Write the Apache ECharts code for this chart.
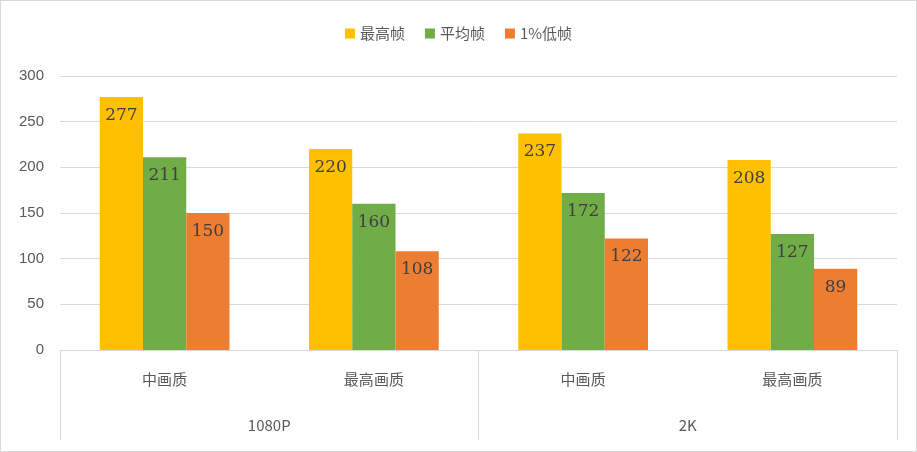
<!DOCTYPE html><html><head><meta charset="utf-8">
<script src="https://cdn.jsdelivr.net/npm/echarts@6/dist/echarts.min.js"></script>
<style>html,body{margin:0;padding:0}#c{width:915px;height:450px;border:1px solid #d9d9d9}</style></head><body><div id="c"></div><script>
const categories=['中画质','最高画质','中画质','最高画质'];
const groups=['1080P','2K'];
const seriesNames=['最高帧','平均帧','1%低帧'];
const maxFps=[277,220,237,208];
const avgFps=[211,160,172,127];
const lowFps=[150,108,122,89];
const colors=['#FFC000','#70AD47','#ED7D31'];
const chart=echarts.init(document.getElementById('c'));
const lbl={show:true,position:'insideTop',distance:10,color:'#404040',fontSize:17,fontFamily:'DejaVu Serif'};
chart.setOption({
 animation:false,
 legend:{top:20,itemWidth:10,itemHeight:10,itemGap:20,icon:'rect',textStyle:{fontSize:15,color:'#595959',fontFamily:'Noto Sans CJK SC'}},
 grid:{left:59,right:19,top:75,bottom:101},
 xAxis:[{type:'category',data:categories,axisTick:{show:false},axisLine:{lineStyle:{color:'#d9d9d9'}},
   axisLabel:{margin:22,fontSize:15,color:'#595959',fontFamily:'Noto Sans CJK SC'}},
  {type:'category',data:groups,position:'bottom',axisLine:{show:false},
   axisTick:{show:true,length:90,lineStyle:{color:'#d9d9d9'}},
   axisLabel:{margin:68,fontSize:15,color:'#595959',fontFamily:'Noto Sans CJK SC'}}],
 yAxis:{type:'value',min:0,max:300,interval:50,axisLine:{show:false},axisTick:{show:false},
  splitLine:{lineStyle:{color:'#d9d9d9'}},axisLabel:{fontSize:15,color:'#595959',margin:16}},
 series:[maxFps,avgFps,lowFps].map((d,i)=>({name:seriesNames[i],type:'bar',data:d,barGap:0,barCategoryGap:'38%',
  itemStyle:{color:colors[i]},label:lbl}))
});
</script></body></html>
